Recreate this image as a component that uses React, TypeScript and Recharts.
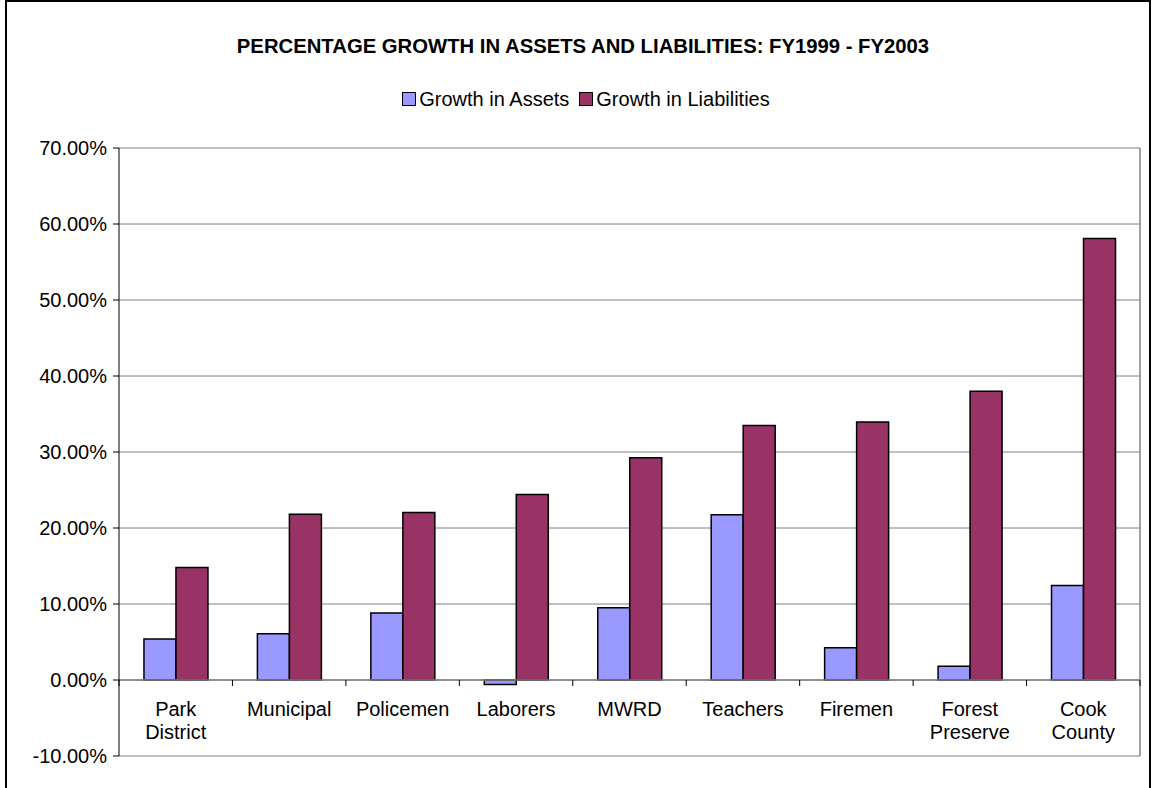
import React from 'react';
import { BarChart, Bar, XAxis, YAxis, CartesianGrid, Legend, ReferenceLine } from 'recharts';

const categories = ['Park District', 'Municipal', 'Policemen', 'Laborers', 'MWRD', 'Teachers', 'Firemen', 'Forest Preserve', 'Cook County'];
const assetsGrowth = [0.054, 0.061, 0.088, -0.006, 0.095, 0.2175, 0.0425, 0.018, 0.1245];
const liabilitiesGrowth = [0.148, 0.218, 0.2205, 0.244, 0.2925, 0.335, 0.3395, 0.38, 0.581];
const yTicks = [-0.1, 0, 0.1, 0.2, 0.3, 0.4, 0.5, 0.6, 0.7];
const seriesNames = ['Growth in Assets', 'Growth in Liabilities'];
const seriesColors = ['#9999FF', '#993366'];

const data = categories.map((name, i) => ({
  name,
  assets: assetsGrowth[i],
  liabilities: liabilitiesGrowth[i],
}));

const W = 1152;
const H = 788;
const X_AXIS_H = 32;
const MARGIN = { top: 148, right: 11, bottom: 0, left: 0 };
const Y_AXIS_W = 119;
const RIGHT_AXIS_W = 1;
const PLOT_W = W - MARGIN.left - MARGIN.right - Y_AXIS_W - RIGHT_AXIS_W;
const PLOT_H = H - MARGIN.top - MARGIN.bottom - X_AXIS_H;
const Y_MIN = yTicks[0];
const Y_MAX = yTicks[yTicks.length - 1];
const ZERO_Y = MARGIN.top + (PLOT_H * (Y_MAX - 0)) / (Y_MAX - Y_MIN);
const BAND = PLOT_W / categories.length;
const FONT = '"Liberation Sans", Arial, sans-serif';

const CategoryTick = (props: any) => {
  const { x, payload, index } = props;
  const words = String(payload.value).split(' ');
  return (
    <g>
      <line x1={x - BAND / 2} x2={x - BAND / 2} y1={ZERO_Y} y2={ZERO_Y + 6} stroke="#000" strokeWidth={1} />
      {index === categories.length - 1 && (
        <line x1={x + BAND / 2} x2={x + BAND / 2} y1={ZERO_Y} y2={ZERO_Y + 6} stroke="#000" strokeWidth={1} />
      )}
      <text x={x} y={ZERO_Y + 36} textAnchor="middle" fontSize={20} fontFamily={FONT} fill="#000">
        {words.map((w, i) => (
          <tspan key={i} x={x} dy={i === 0 ? 0 : 23}>
            {w}
          </tspan>
        ))}
      </text>
    </g>
  );
};

const LegendContent = () => (
  <div style={{ display: 'flex', justifyContent: 'center', alignItems: 'center', fontFamily: FONT, fontSize: 20, color: '#000', height: 24 }}>
    {seriesNames.map((n, i) => (
      <div key={n} style={{ display: 'flex', alignItems: 'center', marginRight: i === 0 ? 10 : 0 }}>
        <span
          style={{
            display: 'inline-block',
            width: 14,
            height: 14,
            boxSizing: 'border-box',
            background: seriesColors[i],
            border: '1.5px solid #000',
            marginRight: 3,
          }}
        />
        <span>{n}</span>
      </div>
    ))}
  </div>
);

export default function App() {
  return (
    <div style={{ position: 'absolute', left: 0, top: 0, width: W, height: H, background: '#fff', overflow: 'hidden' }}>
      <div
        style={{
          position: 'absolute',
          left: 5,
          top: 0,
          width: 1146,
          height: 840,
          boxSizing: 'border-box',
          border: '2.5px solid #000',
        }}
      />
      <div
        style={{
          position: 'absolute',
          left: 0,
          top: 34,
          width: 1166,
          textAlign: 'center',
          fontFamily: FONT,
          fontWeight: 'bold',
          fontSize: 20.3,
          lineHeight: '24px',
          color: '#000',
        }}
      >
        PERCENTAGE GROWTH IN ASSETS AND LIABILITIES: FY1999 - FY2003
      </div>
      <BarChart
        width={W}
        height={H}
        data={data}
        margin={MARGIN}
        barGap={0}
        barCategoryGap="22%"
        style={{ position: 'absolute', left: 0, top: 0 }}
      >
        <CartesianGrid vertical={false} stroke="#808080" strokeWidth={1} />
        <XAxis
          dataKey="name"
          axisLine={false}
          tickLine={false}
          height={X_AXIS_H}
          interval={0}
          tick={<CategoryTick />}
        />
        <YAxis
          domain={[Y_MIN, Y_MAX]}
          ticks={yTicks}
          interval={0}
          width={Y_AXIS_W}
          tickFormatter={(v: number) => `${(v * 100).toFixed(2)}%`}
          tick={{ fontSize: 20, fontFamily: FONT, fill: '#000' }}
          axisLine={{ stroke: '#000', strokeWidth: 1 }}
          tickLine={{ stroke: '#000', strokeWidth: 1 }}
          tickSize={6}
          tickMargin={6}
        />
        <YAxis
          yAxisId="right"
          orientation="right"
          domain={[Y_MIN, Y_MAX]}
          width={RIGHT_AXIS_W}
          tick={false}
          tickLine={false}
          axisLine={{ stroke: '#808080', strokeWidth: 1.5 }}
        />
        <ReferenceLine y={0} stroke="#808080" strokeWidth={1.5} />
        <Legend
          layout="horizontal"
          verticalAlign="middle"
          align="center"
          wrapperStyle={{ top: 87, left: 0, width: 1172 }}
          content={<LegendContent />}
        />
        <Bar dataKey="assets" name={seriesNames[0]} fill={seriesColors[0]} stroke="#000" strokeWidth={1.5} isAnimationActive={false} />
        <Bar dataKey="liabilities" name={seriesNames[1]} fill={seriesColors[1]} stroke="#000" strokeWidth={1.5} isAnimationActive={false} />
      </BarChart>
    </div>
  );
}
